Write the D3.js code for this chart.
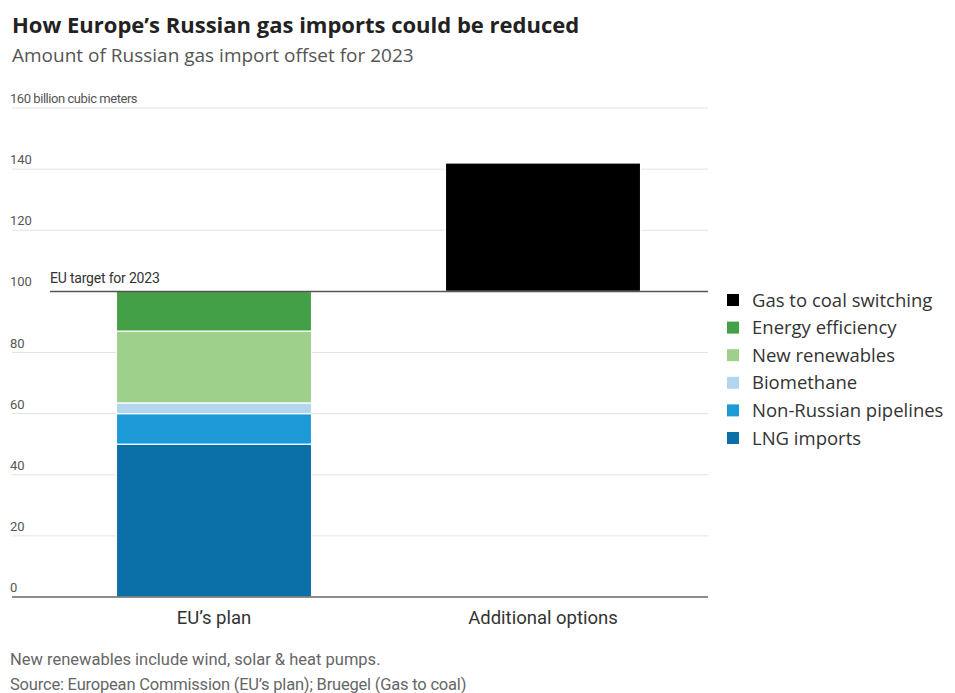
<!DOCTYPE html>
<html>
<head>
<meta charset="utf-8">
<script src="https://cdn.jsdelivr.net/npm/d3@7"></script>
<style>
  body { margin: 0; background: #fff; }
  svg text { font-family: "Roboto", "Liberation Sans", sans-serif; }
</style>
</head>
<body>
<svg id="chart" width="955" height="693"></svg>
<script>
// data
var categories = ["EU\u2019s plan", "Additional options"];
var startLevel = [0, 100];          // gas-to-coal sits on top of the EU target
var lngImports = [50, 0];
var nonRussianPipelines = [10, 0];
var biomethane = [3.5, 0];
var newRenewables = [23.5, 0];
var energyEfficiency = [13, 0];
var gasToCoal = [0, 42];
var yTicks = [0, 20, 40, 60, 80, 100, 120, 140, 160];
var targetValue = 100;

var seriesNames = ["LNG imports", "Non-Russian pipelines", "Biomethane", "New renewables", "Energy efficiency", "Gas to coal switching"];
var seriesValues = [lngImports, nonRussianPipelines, biomethane, newRenewables, energyEfficiency, gasToCoal];
var colors = ["#0a6fa6", "#1c9ad8", "#b3d6f0", "#9ed08c", "#44a047", "#000000"];

var svg = d3.select("#chart");
var sans = "'Open Sans', Lato, sans-serif";

var rows = categories.map(function (c, i) {
    var r = { category: c, base: startLevel[i] };
    seriesNames.forEach(function (n, j) { r[n] = seriesValues[j][i]; });
    return r;
});

// the "base" layer is only an offset, it is not drawn
var stacked = d3.stack().keys(["base"].concat(seriesNames))(rows).slice(1);

var y = d3.scaleLinear().domain([0, 160]).range([597, 108]);
var x = d3.scaleBand().domain(categories).range([49, 708]).paddingInner(0.407).paddingOuter(0.205);

var gridLeft = 12, gridRight = 708;

// gridlines
svg.append("g").selectAll("line")
    .data(yTicks.filter(function (d) { return d !== 0 && d !== targetValue; }))
    .join("line")
    .attr("x1", gridLeft).attr("x2", gridRight)
    .attr("y1", function (d) { return y(d); }).attr("y2", function (d) { return y(d); })
    .attr("stroke", "#e3e3e3").attr("stroke-width", 1);

// tick labels
svg.append("g").selectAll("text")
    .data(yTicks)
    .join("text")
    .attr("x", 10)
    .attr("y", function (d) { return y(d) - 5; })
    .attr("font-size", 13)
    .attr("fill", "#555")
    .attr("letter-spacing", function (d) { return d === 160 ? -0.45 : 0; })
    .text(function (d) { return d === 160 ? "160 billion cubic meters" : d; });

// bars
svg.append("g").selectAll("g")
    .data(stacked)
    .join("g")
    .attr("fill", function (d, i) { return colors[i]; })
    .selectAll("rect")
    .data(function (d) { return d.filter(function (p) { return p[1] - p[0] > 0; }); })
    .join("rect")
    .attr("x", function (d) { return x(d.data.category); })
    .attr("width", x.bandwidth())
    .attr("y", function (d) { return y(d[1]); })
    .attr("height", function (d) { return y(d[0]) - y(d[1]); })
    .attr("stroke", "#fff")
    .attr("stroke-width", 1.2);

// baseline
svg.append("line")
    .attr("x1", gridLeft).attr("x2", gridRight)
    .attr("y1", y(0)).attr("y2", y(0))
    .attr("stroke", "#666").attr("stroke-width", 1.5);

// EU target line
svg.append("line")
    .attr("x1", 50).attr("x2", gridRight)
    .attr("y1", y(targetValue)).attr("y2", y(targetValue))
    .attr("stroke", "#555").attr("stroke-width", 1.5);
svg.append("text")
    .attr("x", 50).attr("y", y(targetValue) - 8)
    .attr("font-size", 14).attr("fill", "#333")
    .attr("letter-spacing", -0.2)
    .text("EU target for 2023");

// category labels
svg.append("g").selectAll("text")
    .data(categories)
    .join("text")
    .attr("x", function (d) { return x(d) + x.bandwidth() / 2; })
    .attr("y", 624)
    .attr("text-anchor", "middle")
    .attr("font-size", 18.5)
    .attr("fill", "#333")
    .text(function (d) { return d; });

// legend (top of stack first)
var legend = svg.append("g").attr("transform", "translate(727,300)");
var legendItems = legend.selectAll("g")
    .data(seriesNames.slice().reverse())
    .join("g")
    .attr("transform", function (d, i) { return "translate(0," + (i * 27.6) + ")"; });
legendItems.append("rect")
    .attr("x", 0).attr("y", -6).attr("width", 12).attr("height", 12)
    .attr("fill", function (d) { return colors[seriesNames.indexOf(d)]; });
legendItems.append("text")
    .attr("x", 25).attr("y", 6.5)
    .attr("font-size", 18.5).attr("fill", "#333")
    .style("font-family", sans)
    .text(function (d) { return d; });

// titles
svg.append("text")
    .attr("x", 12).attr("y", 33)
    .attr("font-size", 22).attr("font-weight", "bold").attr("fill", "#222")
    .style("font-family", sans)
    .text("How Europe\u2019s Russian gas imports could be reduced");
svg.append("text")
    .attr("x", 12).attr("y", 62)
    .attr("font-size", 19).attr("fill", "#555")
    .style("font-family", sans)
    .text("Amount of Russian gas import offset for 2023");

// notes
svg.append("text")
    .attr("x", 10).attr("y", 665)
    .attr("font-size", 16.5).attr("fill", "#666")
    .text("New renewables include wind, solar & heat pumps.");
svg.append("text")
    .attr("x", 10).attr("y", 690)
    .attr("font-size", 16.5).attr("fill", "#666")
    .attr("letter-spacing", -0.2)
    .text("Source: European Commission (EU\u2019s plan); Bruegel (Gas to coal)");
</script>
</body>
</html>
